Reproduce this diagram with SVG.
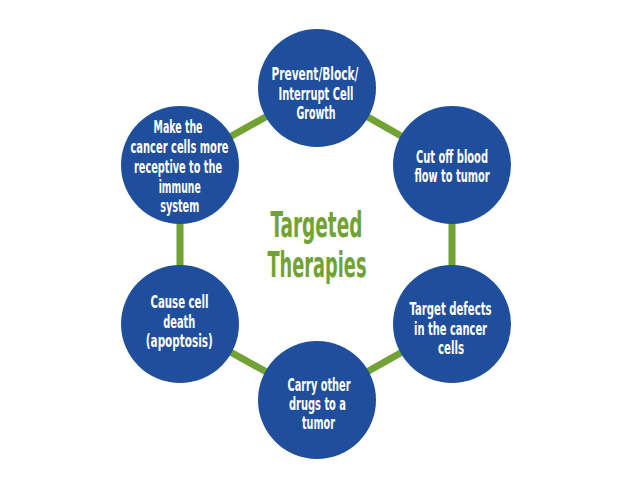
<svg xmlns="http://www.w3.org/2000/svg" width="638" height="479" viewBox="0 0 638 479">
<style>
.bg{fill:#ffffff}
.node circle{fill:#1f4e9d}
.node text{fill:#ffffff;font-family:"Liberation Sans Narrow","DejaVu Sans Condensed","Liberation Sans",sans-serif;font-weight:bold;font-size:18px;text-anchor:middle}
.conn line{stroke:#70a234;stroke-width:7;stroke-linecap:butt}
.title text{fill:#70a234;font-family:"Liberation Sans Narrow","DejaVu Sans Condensed","Liberation Sans",sans-serif;font-weight:bold;font-size:35px;text-anchor:middle}
</style>
<rect class="bg" x="0" y="0" width="638" height="479"/>
<g id="connectors" class="conn">
<line x1="317" y1="88" x2="452" y2="165"/>
<line x1="452" y1="165" x2="452" y2="324"/>
<line x1="452" y1="324" x2="317" y2="400"/>
<line x1="317" y1="400" x2="180" y2="324"/>
<line x1="180" y1="324" x2="180" y2="165"/>
<line x1="180" y1="165" x2="317" y2="88"/>
</g>
<g id="node-top" class="node">
<circle cx="317" cy="88" r="59"/>
<text x="315" y="80" textLength="87" lengthAdjust="spacingAndGlyphs">Prevent/Block/</text>
<text x="316" y="99.5" textLength="75" lengthAdjust="spacingAndGlyphs">Interrupt Cell</text>
<text x="316" y="119" textLength="39" lengthAdjust="spacingAndGlyphs">Growth</text>
</g>
<g id="node-top-right" class="node">
<circle cx="452" cy="165" r="59"/>
<text x="452" y="162.7" textLength="72" lengthAdjust="spacingAndGlyphs">Cut off blood</text>
<text x="452" y="182" textLength="75" lengthAdjust="spacingAndGlyphs">flow to tumor</text>
</g>
<g id="node-bottom-right" class="node">
<circle cx="452" cy="324" r="59"/>
<text x="450.5" y="315" textLength="82" lengthAdjust="spacingAndGlyphs">Target defects</text>
<text x="450.5" y="334.5" textLength="73" lengthAdjust="spacingAndGlyphs">in the cancer</text>
<text x="451" y="354" textLength="26" lengthAdjust="spacingAndGlyphs">cells</text>
</g>
<g id="node-bottom" class="node">
<circle cx="317" cy="400" r="59"/>
<text x="319" y="390.7" textLength="63" lengthAdjust="spacingAndGlyphs">Carry other</text>
<text x="317.5" y="410" textLength="57" lengthAdjust="spacingAndGlyphs">drugs to a</text>
<text x="318.5" y="429.3" textLength="33" lengthAdjust="spacingAndGlyphs">tumor</text>
</g>
<g id="node-bottom-left" class="node">
<circle cx="180" cy="324" r="59"/>
<text x="179.5" y="308.3" textLength="58" lengthAdjust="spacingAndGlyphs">Cause cell</text>
<text x="179.2" y="327.7" textLength="32" lengthAdjust="spacingAndGlyphs">death</text>
<text x="179.3" y="346.7" textLength="67" lengthAdjust="spacingAndGlyphs">(apoptosis)</text>
</g>
<g id="node-top-left" class="node">
<circle cx="180" cy="165" r="59"/>
<text x="178" y="133.3" textLength="49" lengthAdjust="spacingAndGlyphs">Make the</text>
<text x="179.5" y="153.3" textLength="98" lengthAdjust="spacingAndGlyphs">cancer cells more</text>
<text x="178" y="172.7" textLength="88" lengthAdjust="spacingAndGlyphs">receptive to the</text>
<text x="179.7" y="192.5" textLength="42" lengthAdjust="spacingAndGlyphs">immune</text>
<text x="179.7" y="212" textLength="39" lengthAdjust="spacingAndGlyphs">system</text>
</g>
<g id="title" class="title">
<text x="316.5" y="236.7" textLength="92" lengthAdjust="spacingAndGlyphs">Targeted</text>
<text x="317" y="276.7" textLength="99" lengthAdjust="spacingAndGlyphs">Therapies</text>
</g>
</svg>
